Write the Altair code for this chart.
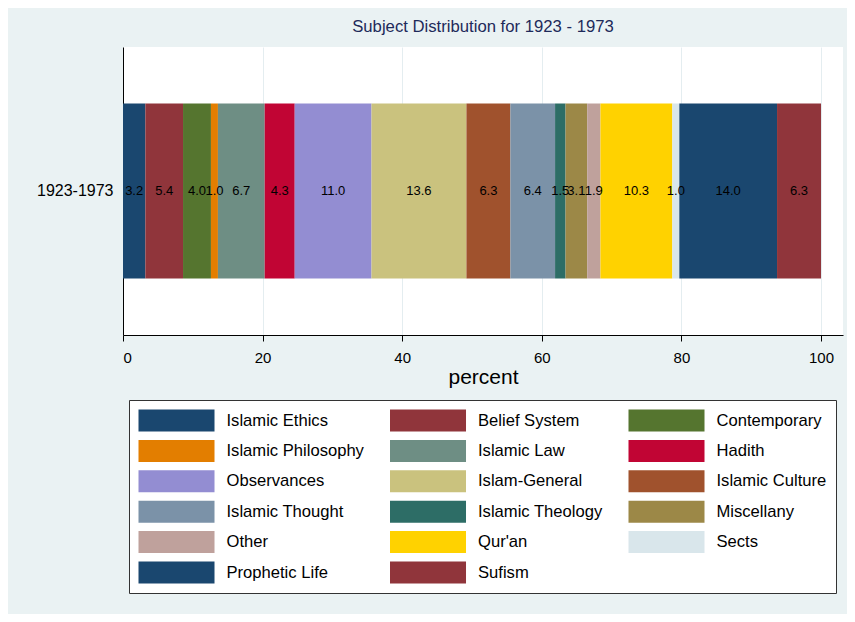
import altair as alt
import pandas as pd

subjects = ["Islamic Ethics", "Belief System", "Contemporary", "Islamic Philosophy",
            "Islamic Law", "Hadith", "Observances", "Islam-General", "Islamic Culture",
            "Islamic Thought", "Islamic Theology", "Miscellany", "Other", "Qur'an",
            "Sects", "Prophetic Life", "Sufism"]
percents = [3.2, 5.4, 4.0, 1.0, 6.7, 4.3, 11.0, 13.6, 6.3, 6.4, 1.5, 3.1, 1.9, 10.3, 1.0, 14.0, 6.3]
colors = ["#1a476f", "#90353b", "#55752f", "#e37e00", "#6e8e84", "#c10534", "#938dd2",
          "#cac27e", "#a0522d", "#7b92a8", "#2d6d66", "#9c8847", "#bfa19c", "#ffd200",
          "#d9e6eb", "#1a476f", "#90353b"]
period = "1923-1973"
x_ticks = [0, 20, 40, 60, 80, 100]

df = pd.DataFrame({
    "subject": subjects,
    "percent": percents,
    "order": list(range(len(subjects))),
    "period": [period] * len(subjects),
})

FONT = "Liberation Sans"

base = (
    alt.Chart(df)
    .transform_stack(stack="percent", as_=["x0", "x1"], groupby=["period"],
                     sort=[alt.SortField("order", order="ascending")])
    .transform_calculate(mid="(datum.x0 + datum.x1) / 2")
)

xscale = alt.Scale(domain=[0, 103.15], nice=False, zero=True)

# wide swatch: symbol is 22px "square" for layout, path extends to the right to 76px
swatch_path = "M-1,-1L5.91,-1L5.91,1L-1,1Z"

bars = base.mark_bar(size=175).encode(
    x=alt.X("x0:Q", scale=xscale, title="percent",
            axis=alt.Axis(values=x_ticks, grid=True, gridColor="#e4edf0", gridWidth=1,
                          domainColor="black", domainWidth=1, tickColor="black",
                          tickSize=6, labelFontSize=15, labelFont=FONT, labelColor="black",
                          labelPadding=9, titleFontSize=21, titleFont=FONT,
                          titleFontWeight="normal", titleColor="black", titlePadding=1)),
    x2="x1:Q",
    y=alt.Y("period:N", title=None,
            axis=alt.Axis(ticks=False, domainColor="black", domainWidth=1,
                          labelFontSize=16, labelFont=FONT, labelColor="black",
                          labelPadding=10)),
    color=alt.Color("subject:N",
                    scale=alt.Scale(domain=subjects, range=colors),
                    legend=alt.Legend(
                        title=None, orient="none", legendX=6, legendY=353,
                        direction="horizontal", columns=3, symbolType=swatch_path,
                        symbolSize=484, symbolStrokeWidth=0, symbolOpacity=1,
                        labelFontSize=16.6, labelFont=FONT, labelColor="black",
                        labelOffset=66, rowPadding=8.4, columnPadding=25.5, padding=9.5,
                        strokeColor="#333333", fillColor="white", labelLimit=300)),
)

text = base.mark_text(fontSize=13, font=FONT, color="black").encode(
    x=alt.X("mid:Q", scale=xscale),
    y=alt.Y("period:N"),
    text=alt.Text("percent:Q", format=".1f"),
)

chart = (
    (bars + text)
    .properties(
        width=720, height=288,
        title=alt.TitleParams("Subject Distribution for 1923 - 1973", fontSize=16.7, font=FONT,
                              fontWeight="normal", color="#1e2a5a", offset=11,
                              anchor="middle", frame="group"),
        background="#eaf2f3",
        padding={"left": 115, "top": 39, "right": 4, "bottom": 279},
        autosize="none",
    )
    .configure_view(stroke=None, fill="white")
)

chart.save("out.html", embed_options={"renderer": "svg", "actions": False})
